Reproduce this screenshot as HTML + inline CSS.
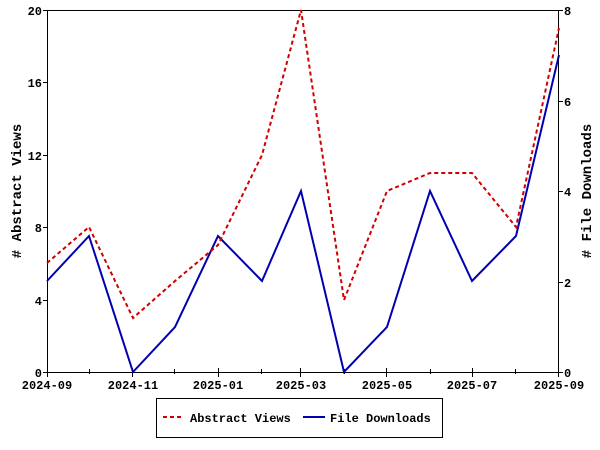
<!DOCTYPE html>
<html><head><style>body{margin:0;background:#fff}svg{display:block}text{font-family:"Liberation Mono",monospace;font-size:12px;font-weight:bold;fill:#000}</style></head>
<body>
<svg width="600" height="450" xmlns="http://www.w3.org/2000/svg">
<rect width="600" height="450" fill="#fff"/>
<g stroke="#000" stroke-width="1" shape-rendering="crispEdges" fill="none">
<rect x="47.5" y="10.5" width="511" height="362"/>
<path d="M43 372.5h4M43 300.5h4M43 227.5h4M43 155.5h4M43 82.5h4M43 10.5h4"/>
<path d="M559 372.5h4M559 282.5h4M559 191.5h4M559 101.5h4M559 10.5h4"/>
<path d="M47.5 368v9M89.5 369v5M132.5 368v9M174.5 369v5M218.5 368v9M261.5 369v5M300.5 368v9M344.5 369v5M386.5 368v9M430.5 369v5M472.5 368v9M515.5 369v5M558.5 368v9"/>
</g>
<g text-anchor="end">
<text x="42" y="377">0</text><text x="42" y="305">4</text><text x="42" y="232">8</text><text x="42" y="160">12</text><text x="42" y="87">16</text><text x="42" y="15">20</text>
</g>
<g>
<text x="564" y="377">0</text><text x="564" y="287">2</text><text x="564" y="196">4</text><text x="564" y="106">6</text><text x="564" y="15">8</text>
</g>
<g text-anchor="middle">
<text x="47" y="389">2024-09</text><text x="133" y="389">2024-11</text><text x="218" y="389">2025-01</text><text x="301" y="389">2025-03</text><text x="387" y="389">2025-05</text><text x="472" y="389">2025-07</text><text x="559" y="389">2025-09</text>
</g>
<text transform="translate(21,191) rotate(-90)" text-anchor="middle" style="font-size:14px">#&#160;Abstract&#160;Views</text>
<text transform="translate(591,191) rotate(-90)" text-anchor="middle" style="font-size:14px">#&#160;File&#160;Downloads</text>
<polyline fill="none" stroke="#0000b0" stroke-width="2" points="47,281 89,236 133,372 175,327 218,236 262,281 301,191 344,372 387,327 430,191 472,281 516,236 559,55"/>
<polyline fill="none" stroke="#d00000" stroke-width="2" stroke-dasharray="4,3" points="47,263 89,227 133,318 175,281 218,245 262,155 301,10 344,300 387,191 430,173 472,173 516,227 559,28"/>
<rect x="156.5" y="398.5" width="286" height="39" fill="none" stroke="#000" shape-rendering="crispEdges"/>
<line x1="163" y1="417" x2="184" y2="417" stroke="#d00000" stroke-width="2" stroke-dasharray="4,3"/>
<text x="190" y="422">Abstract Views</text>
<line x1="303" y1="417" x2="325" y2="417" stroke="#0000b0" stroke-width="2"/>
<text x="330" y="422">File Downloads</text>
</svg>
</body></html>
